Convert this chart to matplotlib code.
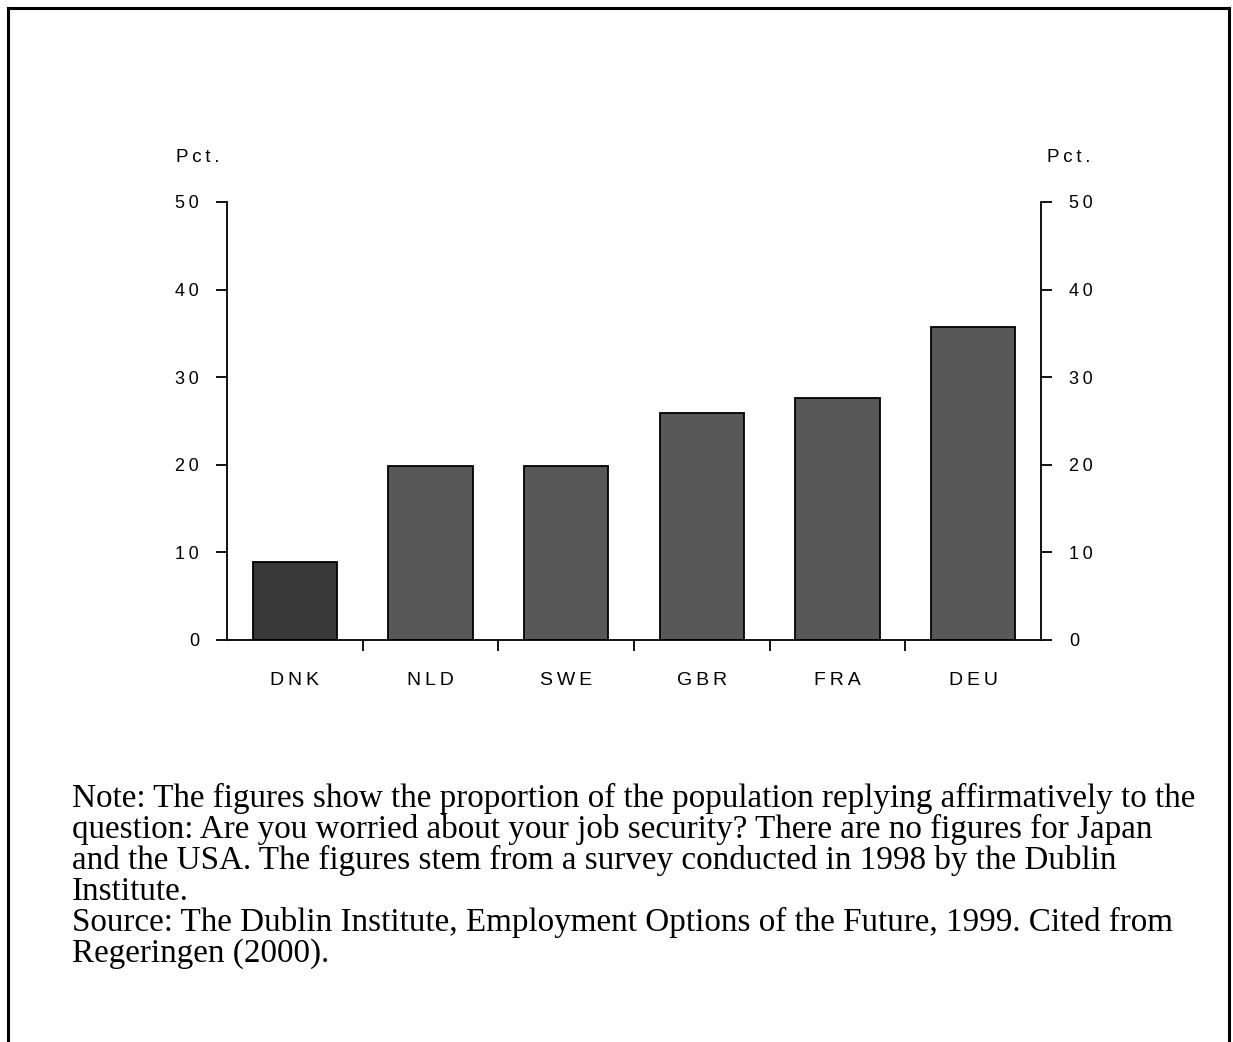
import matplotlib
matplotlib.use("Agg")
import matplotlib.pyplot as plt
from matplotlib.lines import Line2D

countries = ["DNK", "NLD", "SWE", "GBR", "FRA", "DEU"]
values = [8.9, 19.9, 19.9, 25.9, 27.6, 35.7]
yticks = [0, 10, 20, 30, 40, 50]
bar_colors = ["#383838", "#585858", "#585858", "#585858", "#585858", "#585858"]
axis_label = "Pct."

note_lines = [
    "Note: The figures show the proportion of the population replying affirmatively to the",
    "question: Are you worried about your job security? There are no figures for Japan",
    "and the USA. The figures stem from a survey conducted in 1998 by the Dublin",
    "Institute.",
    "Source: The Dublin Institute, Employment Options of the Future, 1999. Cited from",
    "Regeringen (2000).",
]

THIN = "\u2009"


def spaced(s):
    return THIN.join(s)


W, H = 1233, 1042
fig = plt.figure(figsize=(W / 100, H / 100), dpi=100)
fig.patch.set_facecolor("white")

# page frame (top, left, right)
for xs, ys in [((8 / W, 1229 / W), (1 - 8 / H, 1 - 8 / H)),
               ((8 / W, 8 / W), (0, 1 - 8 / H)),
               ((1229 / W, 1229 / W), (0, 1 - 8 / H))]:
    fig.add_artist(Line2D(xs, ys, color="black", lw=2.2, transform=fig.transFigure))

left, right = 227 / W, 1041 / W
bottom, top = 1 - 640 / H, 1 - 202 / H
ax = fig.add_axes([left, bottom, right - left, top - bottom])

x = list(range(len(countries)))
ax.bar(x, values, width=0.62, color=bar_colors, edgecolor="black", linewidth=1.3, zorder=2)

ax.set_xlim(-0.5, len(countries) - 0.5)
ax.set_ylim(0, 50)

sans = ["Liberation Sans", "DejaVu Sans"]
ax.spines["top"].set_visible(False)
for s in ["left", "right", "bottom"]:
    ax.spines[s].set_linewidth(1.3)

ax.set_yticks(yticks)
ax.set_yticklabels([spaced(str(t)) for t in yticks], fontfamily=sans, fontsize=13)
ax.tick_params(axis="y", direction="out", length=8, width=1.3, pad=12,
               left=True, right=True, labelleft=True, labelright=True)

# x: ticks between categories, labels centered under bars
ax.set_xticks([i + 0.5 for i in range(len(countries) - 1)])
ax.set_xticklabels([])
ax.set_xticks(x, minor=True)
ax.set_xticklabels([spaced(c) for c in countries], minor=True, fontfamily=sans, fontsize=14)
ax.tick_params(axis="x", which="major", direction="out", length=8, width=1.3)
ax.tick_params(axis="x", which="minor", length=0, pad=23)

fig.text(176 / W, 1 - 157 / H, spaced(axis_label), fontfamily=sans, fontsize=13.5,
         va="center", ha="left")
fig.text(1047 / W, 1 - 157 / H, spaced(axis_label), fontfamily=sans, fontsize=13.5,
         va="center", ha="left")

serif = "Liberation Serif"
base0 = 807
step = 31
for i, line in enumerate(note_lines):
    fig.text(72 / W, 1 - (base0 + i * step) / H, line, fontfamily=serif, fontsize=23.9,
             va="baseline", ha="left")

fig.savefig("out.png", dpi=100, facecolor="white")
